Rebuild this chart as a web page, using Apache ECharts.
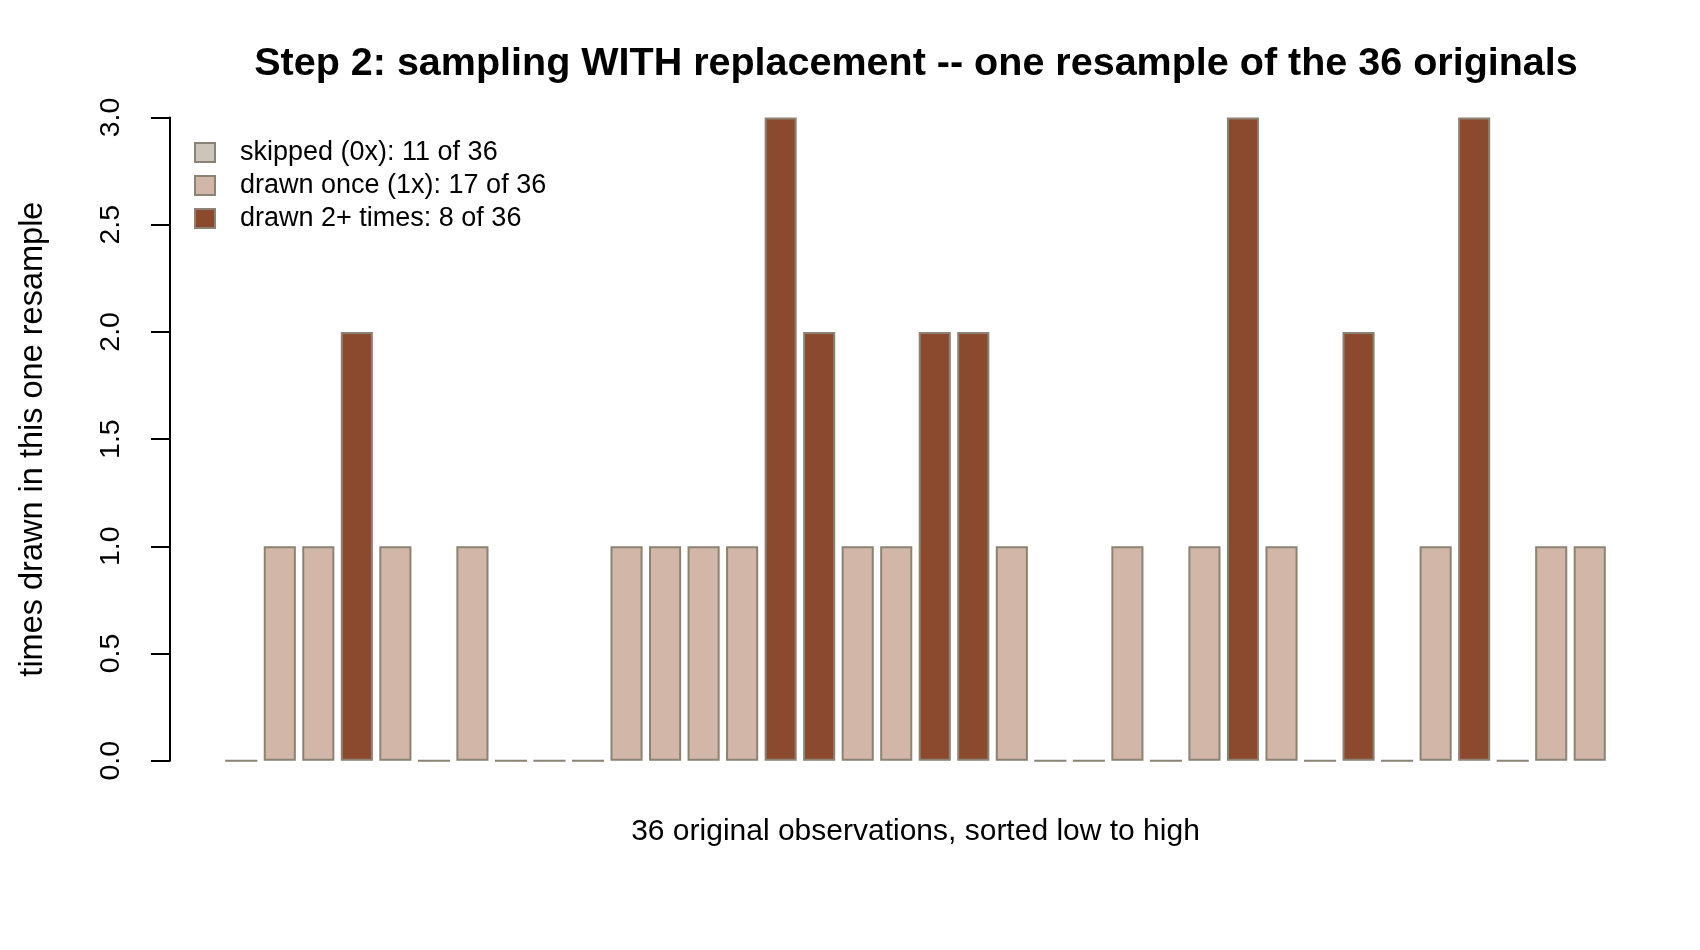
<!DOCTYPE html>
<html>
<head>
<meta charset="utf-8">
<script src="https://cdn.jsdelivr.net/npm/echarts@6/dist/echarts.min.js"></script>
<style>html,body{margin:0;padding:0;background:#fff}#c{width:1700px;height:950px}</style>
</head>
<body>
<div id="c"></div>
<script>
// times each of the 36 sorted originals was drawn in one resample
const observations = Array.from({length: 36}, (_, i) => String(i + 1));
const timesDrawn = [0,1,1,2,1,0,1,0,0,0,1,1,1,1,3,2,1,1,2,2,1,0,0,1,0,1,3,1,0,2,0,1,3,0,1,1];
const yTicks = [0, 0.5, 1, 1.5, 2, 2.5, 3];
const groupKeys = ['skipped', 'once', 'multi'];
const groupColors = {skipped: '#CCC5BB', once: '#D2B7A8', multi: '#8B4A2D'};

const nSkipped = timesDrawn.filter(v => v === 0).length;
const nOnce = timesDrawn.filter(v => v === 1).length;
const nMulti = timesDrawn.filter(v => v >= 2).length;
const n = timesDrawn.length;
const groupNames = {
  skipped: 'skipped (0x): ' + nSkipped + ' of ' + n,
  once: 'drawn once (1x): ' + nOnce + ' of ' + n,
  multi: 'drawn 2+ times: ' + nMulti + ' of ' + n
};
function groupOf(v) { return v === 0 ? 'skipped' : (v === 1 ? 'once' : 'multi'); }

const FONT = '"Liberation Sans", Arial, sans-serif';
const chart = echarts.init(document.getElementById('c'), null, {renderer: 'canvas'});

const series = groupKeys.map(k => ({
  type: 'bar',
  name: groupNames[k],
  data: timesDrawn.map(v => groupOf(v) === k ? v : '-'),
  barGap: '-100%',
  barCategoryGap: '16.67%',
  itemStyle: {color: groupColors[k], borderColor: '#8B8373', borderWidth: 2},
  emphasis: {disabled: true},
  animation: false
}));

chart.setOption({
  backgroundColor: '#fff',
  animation: false,
  title: {
    text: 'Step 2: sampling WITH replacement -- one resample of the 36 originals',
    left: 911, top: 39, textAlign: 'center',
    textStyle: {fontFamily: FONT, fontSize: 39.5, fontWeight: 'bold', color: '#000'}
  },
  legend: {
    orient: 'vertical', left: 189, top: 134,
    itemWidth: 20, itemHeight: 19, itemGap: 6,
    icon: 'rect',
    selectedMode: false,
    data: groupKeys.map(k => groupNames[k]),
    textStyle: {fontFamily: FONT, fontSize: 27, color: '#000', lineHeight: 26, padding: [0, 0, 0, 20]}
  },
  grid: {left: 222, right: 91, top: 117.5, bottom: 189.3, containLabel: false},
  xAxis: {
    type: 'category', data: observations,
    axisLine: {show: false}, axisTick: {show: false}, axisLabel: {show: false},
    name: '36 original observations, sorted low to high',
    nameLocation: 'middle', nameGap: 56,
    nameTextStyle: {fontFamily: FONT, fontSize: 30, color: '#000'}
  },
  yAxis: {
    type: 'value', min: yTicks[0], max: yTicks[yTicks.length - 1], interval: yTicks[1] - yTicks[0],
    offset: 52,
    splitLine: {show: false},
    axisLine: {show: true, lineStyle: {color: '#000', width: 2}},
    axisTick: {show: true, length: 19, lineStyle: {color: '#000', width: 2}},
    axisLabel: {
      rotate: 90, margin: 44, color: '#000', fontFamily: FONT, fontSize: 28.5,
      formatter: v => v.toFixed(1)
    },
    name: 'times drawn in this one resample',
    nameLocation: 'middle', nameGap: 120, nameRotate: 90,
    nameTextStyle: {fontFamily: FONT, fontSize: 32.5, color: '#000'}
  },
  series: series
});
</script>
</body>
</html>
